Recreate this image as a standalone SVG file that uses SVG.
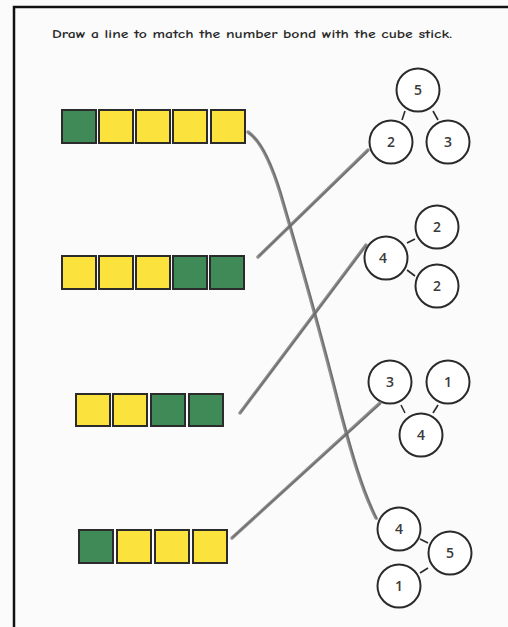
<svg xmlns="http://www.w3.org/2000/svg" width="508" height="627" viewBox="0 0 508 627">
<style>
.g{fill:#3f8a57;stroke:#2b2b2b;stroke-width:2}
.y{fill:#fbe23c;stroke:#2b2b2b;stroke-width:2}
.c{fill:#ffffff;stroke:#2a2a2a;stroke-width:2}
.l{stroke:#2a2a2a;stroke-width:1.6}
.n{font-family:"Open Sans","DejaVu Sans",sans-serif;font-size:14px;font-weight:600;fill:#3a3a3a;text-anchor:middle}
.p{fill:none;stroke:#7a7a7a;stroke-width:3.4;stroke-linecap:round;opacity:0.85}
.p2{fill:none;stroke:#555;stroke-width:1.2;stroke-linecap:round;opacity:0.6}
</style>
<rect x="0" y="0" width="508" height="627" fill="#fbfbfb"/>
<path d="M14,627 V7 H508" fill="none" stroke="#111" stroke-width="2.5"/>
<text x="52" y="38" font-family="'Comic Neue','Liberation Sans',sans-serif" font-size="12.5" font-weight="600" fill="#2a2a2a" textLength="400" lengthAdjust="spacingAndGlyphs">Draw a line to match the number bond with the cube stick.</text>

<g id="stick1">
<rect class="g" x="62" y="110" width="34" height="33"/>
<rect class="y" x="99" y="110" width="34" height="33"/>
<rect class="y" x="136" y="110" width="34" height="33"/>
<rect class="y" x="173" y="110" width="34" height="33"/>
<rect class="y" x="211" y="110" width="34" height="33"/>
</g>
<g id="stick2">
<rect class="y" x="62" y="256" width="34" height="33"/>
<rect class="y" x="99" y="256" width="34" height="33"/>
<rect class="y" x="136" y="256" width="34" height="33"/>
<rect class="g" x="173" y="256" width="34" height="33"/>
<rect class="g" x="210" y="256" width="34" height="33"/>
</g>
<g id="stick3">
<rect class="y" x="76" y="394" width="34" height="32"/>
<rect class="y" x="113" y="394" width="34" height="32"/>
<rect class="g" x="151" y="394" width="34" height="32"/>
<rect class="g" x="189" y="394" width="34" height="32"/>
</g>
<g id="stick4">
<rect class="g" x="79" y="530" width="34" height="33"/>
<rect class="y" x="117" y="530" width="34" height="33"/>
<rect class="y" x="155" y="530" width="34" height="33"/>
<rect class="y" x="193" y="530" width="34" height="33"/>
</g>

<g id="bond1">
<line class="l" x1="402" y1="120" x2="405" y2="111"/>
<line class="l" x1="433" y1="111" x2="438" y2="120"/>
<circle class="c" cx="418" cy="90" r="21.5"/>
<circle class="c" cx="391" cy="142" r="21.5"/>
<circle class="c" cx="448" cy="142" r="21.5"/>
<text class="n" x="418" y="95">5</text>
<text class="n" x="391" y="147">2</text>
<text class="n" x="448" y="147">3</text>
</g>
<g id="bond2">
<line class="l" x1="407" y1="243" x2="415" y2="239"/>
<line class="l" x1="407" y1="270" x2="415" y2="276"/>
<circle class="c" cx="437" cy="227" r="21.5"/>
<circle class="c" cx="386" cy="258" r="21.5"/>
<circle class="c" cx="437" cy="286" r="21.5"/>
<text class="n" x="437" y="232">2</text>
<text class="n" x="383" y="263">4</text>
<text class="n" x="437" y="291">2</text>
</g>
<g id="bond3">
<line class="l" x1="401" y1="405" x2="405" y2="413"/>
<line class="l" x1="438" y1="405" x2="433" y2="413"/>
<circle class="c" cx="390" cy="382" r="21.5"/>
<circle class="c" cx="448" cy="382" r="21.5"/>
<circle class="c" cx="421" cy="435" r="21.5"/>
<text class="n" x="390" y="387">3</text>
<text class="n" x="448" y="387">1</text>
<text class="n" x="421" y="440">4</text>
</g>
<g id="bond4">
<line class="l" x1="420" y1="539" x2="428" y2="543"/>
<line class="l" x1="420" y1="573" x2="428" y2="568"/>
<circle class="c" cx="399" cy="529" r="21.5"/>
<circle class="c" cx="450" cy="553" r="21.5"/>
<circle class="c" cx="399" cy="586" r="21.5"/>
<text class="n" x="399" y="534">4</text>
<text class="n" x="450" y="558">5</text>
<text class="n" x="399" y="591">1</text>
</g>

<g id="connectors">
<path class="p" d="M248,132 C260,140 270,160 280,192 C300,260 320,330 340,410 C352,455 362,490 376,518"/>
<path class="p2" d="M249,133 C261,141 271,161 281,193 C301,261 321,331 341,411 C353,456 363,491 377,519"/>
<path class="p" d="M258,257 L368,150"/>
<path class="p2" d="M259,256 L368,151"/>
<path class="p" d="M240,413 L366,245"/>
<path class="p2" d="M241,412 L366,246"/>
<path class="p" d="M232,538 L380,403"/>
<path class="p2" d="M233,537 L380,404"/>
</g>
</svg>
